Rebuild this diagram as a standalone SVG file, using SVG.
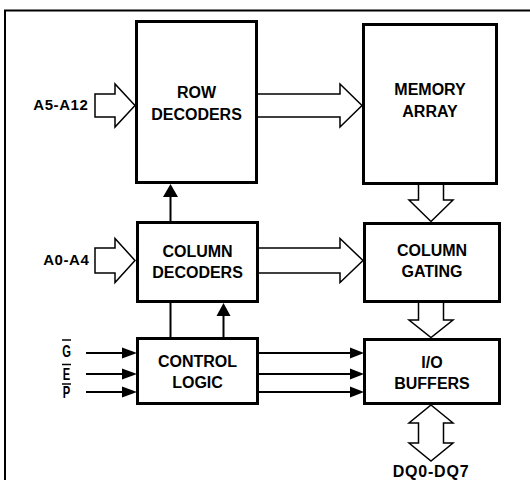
<svg xmlns="http://www.w3.org/2000/svg" width="530" height="480" viewBox="0 0 530 480">
<style>
.box{fill:#fff;stroke:#000;stroke-width:3}
.t{font-family:"Liberation Sans",Arial,sans-serif;font-weight:bold;font-size:16px;fill:#000;text-anchor:middle}
.lbl{font-family:"Liberation Sans",Arial,sans-serif;font-weight:bold;font-size:15px;fill:#000}
.hollow{fill:#fff;stroke:#000;stroke-width:1.5;stroke-linejoin:miter}
.ln{stroke:#000;stroke-width:2;fill:none}
.head{fill:#000;stroke:none}
</style>
<rect width="530" height="480" fill="#fff"/>
<path d="M5,485 V10.5 H535" fill="none" stroke="#000" stroke-width="2"/>

<g id="connectors">
  <path class="hollow" d="M95,94 H115 V84 L135,105.5 L115,127 V117 H95 Z"/>
  <path class="hollow" d="M95,248 H115 V238.5 L135,260.5 L115,282.5 V273 H95 Z"/>
  <path class="hollow" d="M257,94 H340 V84 L362,105.5 L340,127 V117 H257"/>
  <path class="hollow" d="M258,248 H340 V238.5 L363,260.5 L340,282.5 V273 H258"/>
  <path class="hollow" d="M418.5,184 V200 H409 L431,221.5 L453,200 H443.5 V184"/>
  <path class="hollow" d="M418.5,302 V320 H409 L431,337.5 L453,320 H443.5 V302"/>
  <path class="hollow" d="M431,405 L453,423 H443.5 V443 H453 L431,461 L409,443 H418.5 V423 H409 Z"/>
  <line class="ln" x1="170.5" y1="222" x2="170.5" y2="196"/>
  <polygon class="head" points="163,197 178,197 170.5,184"/>
  <line class="ln" x1="170.5" y1="301" x2="170.5" y2="338"/>
  <line class="ln" x1="223.5" y1="338" x2="223.5" y2="315"/>
  <polygon class="head" points="216.5,316 230.5,316 223.5,303"/>
  <line class="ln" x1="86" y1="353" x2="124" y2="353"/>
  <polygon class="head" points="122,347.5 137,353 122,358.5"/>
  <line class="ln" x1="86" y1="374" x2="124" y2="374"/>
  <polygon class="head" points="122,368.5 137,374 122,379.5"/>
  <line class="ln" x1="86" y1="392" x2="124" y2="392"/>
  <polygon class="head" points="122,386.5 137,392 122,397.5"/>
  <line class="ln" x1="257" y1="353" x2="352" y2="353"/>
  <polygon class="head" points="350,347.5 364,353 350,358.5"/>
  <line class="ln" x1="257" y1="374" x2="352" y2="374"/>
  <polygon class="head" points="350,368.5 364,374 350,379.5"/>
  <line class="ln" x1="257" y1="392" x2="352" y2="392"/>
  <polygon class="head" points="350,386.5 364,392 350,397.5"/>
</g>

<g id="labels">
  <text class="lbl" x="88.5" y="110" text-anchor="end" letter-spacing="0.6">A5-A12</text>
  <text class="lbl" x="89.5" y="265" text-anchor="end" letter-spacing="0.6">A0-A4</text>
  <text class="t" x="431" y="477" letter-spacing="0.8">DQ0-DQ7</text>
  <g transform="translate(66.5,0) scale(0.7,1)">
    <text class="t" x="0" y="357.5" font-size="15.5">G</text>
    <text class="t" x="0" y="380" font-size="15.5">E</text>
    <text class="t" x="0" y="398" font-size="15.5">P</text>
  </g>
  <line x1="62" y1="340" x2="71" y2="340" stroke="#000" stroke-width="1.5"/>
  <line x1="62" y1="364.5" x2="71" y2="364.5" stroke="#000" stroke-width="1.5"/>
  <line x1="62" y1="384" x2="71" y2="384" stroke="#000" stroke-width="1.5"/>
</g>

<g id="row-decoders">
  <rect class="box" x="136.5" y="21.5" width="120" height="161"/>
  <text class="t" x="196.5" y="98">ROW</text>
  <text class="t" x="196.5" y="120">DECODERS</text>
</g>
<g id="memory-array">
  <rect class="box" x="363.5" y="24.5" width="133" height="159"/>
  <text class="t" x="430" y="95">MEMORY</text>
  <text class="t" x="430" y="117">ARRAY</text>
</g>
<g id="column-decoders">
  <rect class="box" x="137.5" y="222.5" width="120" height="79"/>
  <text class="t" x="197.5" y="257">COLUMN</text>
  <text class="t" x="197.5" y="278">DECODERS</text>
</g>
<g id="column-gating">
  <rect class="box" x="364.5" y="223.5" width="135" height="78"/>
  <text class="t" x="432" y="256">COLUMN</text>
  <text class="t" x="432" y="277">GATING</text>
</g>
<g id="control-logic">
  <rect class="box" x="137.5" y="338.5" width="120" height="65"/>
  <text class="t" x="197.5" y="367">CONTROL</text>
  <text class="t" x="197.5" y="388">LOGIC</text>
</g>
<g id="io-buffers">
  <rect class="box" x="364.5" y="339.5" width="135" height="64"/>
  <text class="t" x="432" y="368">I/O</text>
  <text class="t" x="432" y="389">BUFFERS</text>
</g>
</svg>
